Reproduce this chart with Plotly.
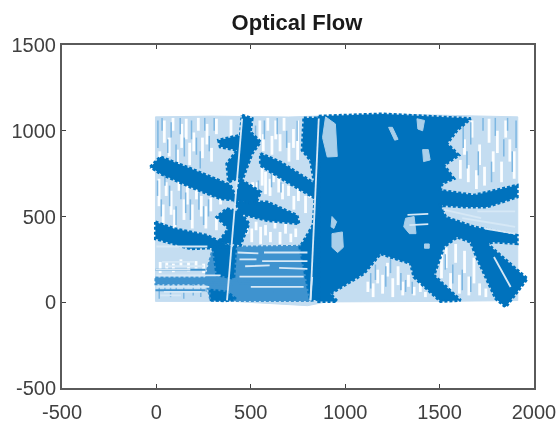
import plotly.graph_objects as go

title_text = "Optical Flow"
x_ticks = [-500, 0, 500, 1000, 1500, 2000]
y_ticks = [-500, 0, 500, 1000, 1500]
x_labels = ["-500", "0", "500", "1000", "1500", "2000"]
y_labels = ["-500", "0", "500", "1000", "1500"]

field_outline = [(-5,1081),(300,1085),(700,1080),(1200,1098),(1914,1081),(1914,10),(1500,5),(900,2),(800,-20),(400,5),(-5,5)]
medium_patches = [
    [(300,322),(816,330),(840,140),(816,8),(286,8),(260,150)],
    [(-5,145),(300,145),(300,105),(-5,105)],
]
dark_patches = [
    [(-32,789),(21,848),(180,780),(392,683),(430,594),(339,604),(180,672),(21,750)],
    [(-5,468),(92,430),(268,390),(392,322),(180,312),(-5,370)],
    [(454,1091),(507,1071),(498,993),(551,935),(507,867),(454,711),(552,643),(526,575),(417,594),(445,731),(382,701),(373,808),(427,886),(338,906),(329,945),(445,974)],
    [(551,867),(657,818),(852,682),(844,604),(692,701),(551,798)],
    [(417,585),(586,585),(745,507),(755,458),(586,477),(445,516)],
    [(373,546),(445,526),(490,458),(445,332),(329,351),(382,429),(320,497)],
    [(781,1075),(870,1075),(870,20),(816,11),(790,160),(760,320),(830,450),(843,653),(816,828),(772,886)],
    [(860,1085),(1200,1098),(1664,1071),(1593,1003),(1540,925),(1602,857),(1523,799),(1576,721),(1514,692),(1505,653),
     (1682,624),(1911,682),(1911,614),(1752,556),(1629,556),(1505,565),(1532,497),(1682,439),(1911,390),(1911,342),(1788,351),
     (1752,342),(1964,137),(1850,-28),(1797,21),(1699,254),(1664,351),(1593,380),(1523,322),(1470,157),(1611,11),(1505,5),
     (1364,147),(1346,225),(1187,283),(1099,167),(922,50),(957,5),(860,5)],
    [(286,70),(374,60),(420,20),(360,8),(290,15)],
    [(300,320),(420,320),(410,140),(320,160)],
]
pale_patches = [
    [(896,1081),(948,1040),(958,850),(905,847),(880,960)],
    [(1320,490),(1365,500),(1375,400),(1340,400),(1310,440)],
    [(1420,340),(1445,340),(1445,315),(1420,315)],
    [(930,500),(955,470),(940,430),(925,440)],
    [(930,400),(985,410),(990,320),(960,290),(930,320)],
    [(1230,1020),(1250,1020),(1280,950),(1262,945)],
    [(1410,890),(1440,890),(1450,830),(1415,820)],
    [(1380,1070),(1420,1060),(1410,1000),(1385,1010)],
]
white_dash_x = [18,42,68,88,112,134,158,176,198,222,244,268,292,318,395,410,
                14,36,52,78,96,120,146,164,190,212,238,262,288,318,340,
                510,535,560,578,602,620,648,668,700,728,752,790,812,
                548,566,590,612,632,655,676,702,726,748,
                480,505,528,552,578,604,628,655,684,712,738,
                1610,1632,1652,1672,1695,1712,1738,1762,1784,1806,1828,1850,1872,1895,
                1120,1148,1172,1198,1224,1252,1280,1305,1335,1365,1398,1425,
                1510,1535,1558,1585,1605,1632,1655,1682,1712,1745,
                20,55,90,130,170,210,250,
                440,490,540,590,640,690,740,790]
white_dash_y0 = [760,930,850,1000,790,900,950,800,880,1000,840,920,820,980,970,880,
                 560,460,620,510,420,650,480,570,430,600,500,430,530,420,570,
                 640,610,680,630,620,700,640,600,620,540,590,520,610,
                 940,880,1000,860,950,880,1000,820,900,830,
                 400,350,420,340,390,350,430,340,400,350,380,
                 720,860,700,960,660,800,680,930,760,870,700,960,820,720,
                 60,30,110,50,150,30,100,40,90,40,60,30,
                 140,200,70,230,50,170,40,110,40,30,
                 170,190,175,210,180,195,170,
                 40,180,60,200,30,170,50,190]
white_dash_y1 = [880,1060,960,1075,890,1040,1070,930,990,1075,960,1040,900,1070,1065,950,
                 720,570,700,650,540,730,600,680,570,690,620,560,610,500,640,
                 700,700,800,760,720,770,730,690,680,620,680,620,680,
                 1060,980,1075,970,1060,980,1075,930,1010,1060,
                 460,430,470,440,450,410,470,410,470,400,430,
                 830,950,800,1060,770,920,790,1070,880,1000,820,1060,950,880,
                 120,110,190,160,230,140,210,120,160,90,110,60,
                 280,320,170,340,160,300,150,260,110,80,
                 235,240,225,250,235,240,225,
                 90,235,120,240,70,235,110,240]
blue_dash_x = [8,30,60,78,104,126,148,186,212,232,256,280,306,
               6,26,45,70,104,130,155,180,225,250,276,
               525,572,640,690,745,540,610,660,
               1625,1645,1665,1705,1730,1775,1795,1840,1860,1885,1905,
               1135,1160,1215,1240,1295,1320,1355,1530,1570,1620,1665,
               15,45,75,105,145,195,235,265]
blue_dash_y0 = [900,1000,870,960,820,980,850,950,860,780,1000,880,1000,
                620,500,680,560,450,600,520,480,540,450,500,
                900,950,980,900,940,640,670,640,
                900,780,920,740,1000,700,970,850,1000,760,900,
                80,130,90,170,70,60,50,190,110,70,60,
                20,60,30,70,20,40,30,60]
blue_dash_y1 = [1060,1075,950,1050,920,1075,960,1060,960,880,1075,970,1075,
                710,600,760,680,560,700,640,600,640,560,600,
                1030,1060,1075,1000,1060,710,760,700,
                1060,880,1050,880,1075,820,1075,950,1075,880,1060,
                170,220,210,260,170,130,120,280,220,190,150,
                90,110,100,125,90,110,100,110]
pale_line_x0 = [454,860,0,0,50,30,0,440,560,440,500,570,1520,1620,1700,1740,1788,825,1330,1340,-5,40,20,430,470,650]
pale_line_y0 = [1071,1071,157,325,210,235,90,250,240,150,90,290,540,490,530,430,264,147,510,450,190,60,40,290,210,200]
pale_line_x1 = [374,816,340,270,250,200,280,530,800,780,780,800,1720,1900,1900,1900,1876,816,1440,1440,180,240,130,540,600,800]
pale_line_y1 = [11,11,157,325,210,235,90,250,240,150,90,290,490,440,530,400,89,11,515,455,190,60,40,285,215,195]
blue_line_x0 = [-5,-5,-5,300,350,450,620]
blue_line_y0 = [128,70,190,105,210,120,60]
blue_line_x1 = [430,260,260,810,800,800,800]
blue_line_y1 = [128,70,190,110,215,125,60]


def polygons(groups):
    xs, ys = [], []
    for g in groups:
        xs += [p[0] for p in g] + [g[0][0], None]
        ys += [p[1] for p in g] + [g[0][1], None]
    return xs, ys


def segments(x0, y0, x1, y1):
    xs, ys = [], []
    for a, b, c, d in zip(x0, y0, x1, y1):
        xs += [a, c, None]
        ys += [b, d, None]
    return xs, ys


BLUE = "#0072BD"
fig = go.Figure()


def add_fill(groups, fill, edge, width, dash="solid"):
    xs, ys = polygons(groups)
    fig.add_trace(go.Scatter(x=xs, y=ys, mode="lines", fill="toself", fillcolor=fill,
                             line=dict(color=edge, width=width, dash=dash), hoverinfo="skip", showlegend=False))


def add_lines(xs, ys, color, width):
    fig.add_trace(go.Scatter(x=xs, y=ys, mode="lines", line=dict(color=color, width=width),
                             hoverinfo="skip", showlegend=False))


add_fill([field_outline], "#c4ddf1", "#c4ddf1", 1)
xs, ys = segments(white_dash_x, white_dash_y0, white_dash_x, white_dash_y1)
add_lines(xs, ys, "rgba(255,255,255,0.95)", 2.8)
xs, ys = segments(blue_dash_x, blue_dash_y0, blue_dash_x, blue_dash_y1)
add_lines(xs, ys, "#7db7e2", 1.5)
add_fill(medium_patches, "#3f93cf", "#3f93cf", 2, "3px,2px")
xs, ys = segments(blue_line_x0, blue_line_y0, blue_line_x1, blue_line_y1)
add_lines(xs, ys, "#3f93cf", 2)
add_fill(dark_patches, BLUE, BLUE, 3, "3px,2px")
add_fill(pale_patches, "#a9cfea", "#a9cfea", 1)
xs, ys = segments(pale_line_x0, pale_line_y0, pale_line_x1, pale_line_y1)
add_lines(xs, ys, "#d6e8f6", 1.8)

axis_style = dict(showgrid=False, zeroline=False, showline=True, linecolor="#5a5a5a", linewidth=2,
                  mirror="ticks", ticks="inside", ticklen=4, tickcolor="#404040", tickwidth=1, automargin=False,
                  tickfont=dict(family="Liberation Sans", size=20, color="#404040"))
fig.update_layout(
    width=558, height=434, autosize=False,
    margin=dict(l=62, r=24, t=45, b=46),
    paper_bgcolor="white", plot_bgcolor="white",
    title=dict(text=title_text, x=297/558, xanchor="center", y=1-30/434, yanchor="bottom",
               font=dict(family="Liberation Sans", size=22, color="#1a1a1a", weight="bold")),
    xaxis=dict(range=[-500, 2000], tickvals=x_ticks, ticktext=x_labels, ticklabelstandoff=5, **axis_style),
    yaxis=dict(range=[-500, 1500], tickvals=y_ticks, ticktext=y_labels, **axis_style),
)
fig.write_html("out.html", config=dict(displayModeBar=False),
               post_script="document.body.style.margin='0';document.body.style.overflow='hidden';document.querySelector('.js-plotly-plot').style.filter='blur(0.6px)';")
